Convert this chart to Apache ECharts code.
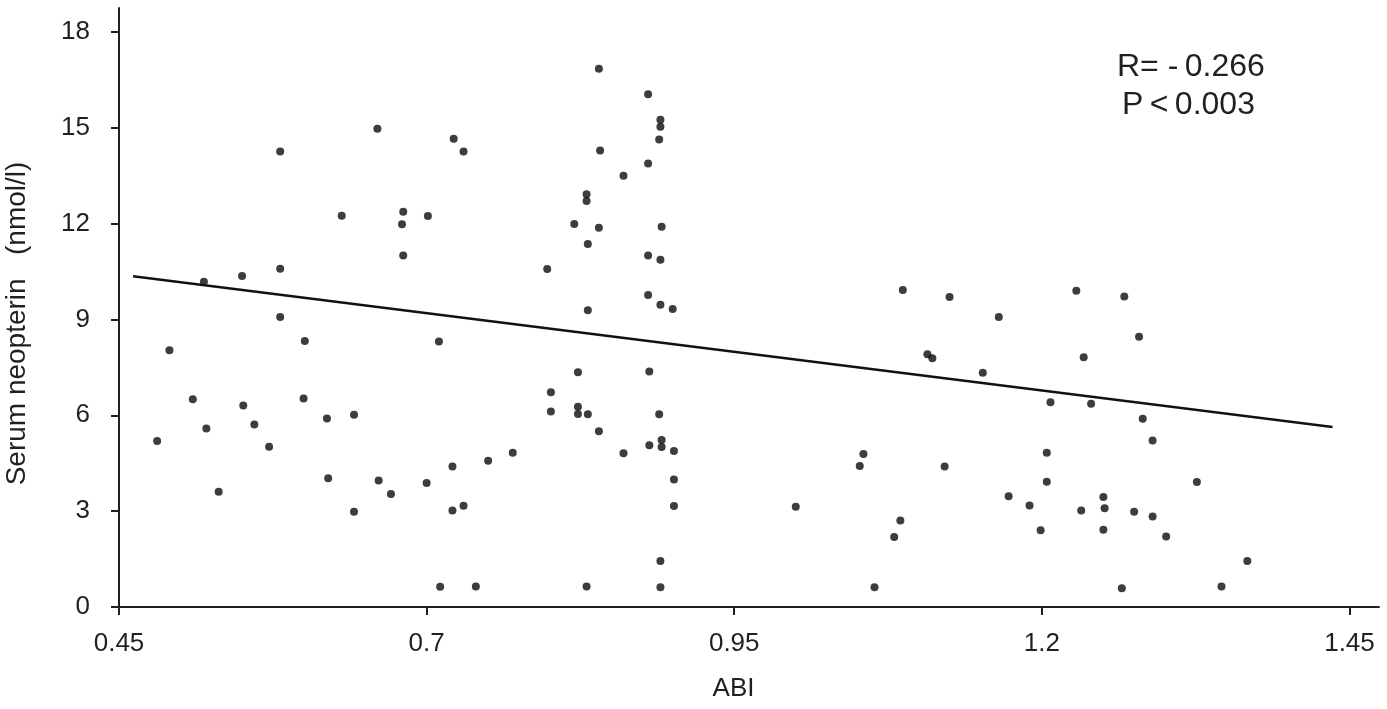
<!DOCTYPE html>
<html>
<head>
<meta charset="utf-8">
<script src="https://cdn.jsdelivr.net/npm/echarts@6.0.0/dist/echarts.min.js"></script>
<style>
  html, body { margin: 0; padding: 0; background: #fff; }
  #chart { width: 1387px; height: 709px; }
</style>
</head>
<body>
<div id="chart"></div>
<script>
// ABI vs serum neopterin
const abi = [
  0.481, 0.491, 0.510, 0.519, 0.521, 0.531, 0.550, 0.551, 0.560, 0.572,
  0.581, 0.581, 0.581, 0.600, 0.601, 0.619, 0.620, 0.631, 0.641, 0.641,
  0.660, 0.661, 0.671, 0.681, 0.680, 0.681, 0.700, 0.701, 0.710, 0.711,
  0.721, 0.721, 0.722, 0.730, 0.730, 0.740, 0.750, 0.770, 0.798, 0.801,
  0.801, 0.820, 0.823, 0.823, 0.823, 0.830, 0.830, 0.831, 0.831, 0.831,
  0.830, 0.840, 0.841, 0.840, 0.840, 0.860, 0.860, 0.880, 0.880, 0.880,
  0.880, 0.881, 0.881, 0.889, 0.890, 0.890, 0.891, 0.890, 0.890, 0.889,
  0.891, 0.891, 0.890, 0.890, 0.900, 0.901, 0.901, 0.901, 1.000, 1.052,
  1.055, 1.064, 1.080, 1.085, 1.087, 1.107, 1.111, 1.121, 1.125, 1.152,
  1.165, 1.173, 1.190, 1.199, 1.204, 1.204, 1.207, 1.228, 1.232, 1.234,
  1.240, 1.250, 1.251, 1.250, 1.265, 1.267, 1.275, 1.279, 1.282, 1.290,
  1.290, 1.301, 1.326, 1.346, 1.367
]
const neopterin = [
  5.20, 8.04, 6.50, 10.18, 5.59, 3.61, 10.36, 6.31, 5.71, 5.02,
  10.59, 14.26, 9.08, 6.53, 8.33, 5.90, 4.03, 12.25, 6.02, 2.98,
  14.97, 3.96, 3.54, 12.37, 11.98, 11.00, 3.88, 12.24, 8.31, 0.63,
  4.40, 3.02, 14.66, 14.26, 3.17, 0.64, 4.58, 4.83, 10.58, 6.72,
  6.12, 11.99, 7.35, 6.27, 6.04, 12.92, 12.71, 11.36, 9.29, 6.03,
  0.64, 16.85, 14.29, 11.87, 5.50, 13.50, 4.81, 16.05, 13.88, 11.00,
  9.77, 7.37, 5.06, 14.63, 15.25, 15.03, 11.90, 10.87, 9.46, 6.03,
  5.23, 5.01, 1.44, 0.62, 9.33, 4.88, 3.99, 3.16, 3.14, 4.41,
  4.79, 0.62, 2.19, 2.71, 9.92, 7.91, 7.79, 4.40, 9.70, 7.33,
  9.08, 3.47, 3.18, 2.40, 4.83, 3.92, 6.41, 9.90, 3.02, 7.82,
  6.36, 3.44, 3.09, 2.42, 0.59, 9.72, 2.98, 8.46, 5.89, 5.21,
  2.83, 2.21, 3.91, 0.64, 1.44
]
// regression line end points
const fitX = [0.4614, 1.4362]
const fitY = [10.35, 5.636]

const xTicks = [0.45, 0.7, 0.95, 1.2, 1.45]
const yTicks = [0, 3, 6, 9, 12, 15, 18]

const ink = '#231f20'
const font = 'Liberation Sans, Arial, sans-serif'

const chart = echarts.init(document.getElementById('chart'))
chart.setOption({
  animation: false,
  grid: { left: 119, top: 8, width: 1260, height: 599, outerBoundsMode: 'none', containLabel: false },
  xAxis: {
    type: 'value',
    min: 0.45,
    max: 1.474,
    name: 'ABI',
    nameLocation: 'middle',
    nameGap: 69,
    nameTextStyle: { color: ink, fontSize: 26, fontFamily: font, padding: [0, 31, 0, 0] },
    splitLine: { show: false },
    axisLine: { lineStyle: { color: ink, width: 2 } },
    axisTick: { customValues: xTicks, length: 8, lineStyle: { color: ink, width: 2 } },
    axisLabel: {
      customValues: xTicks,
      color: ink,
      fontSize: 26,
      fontFamily: font,
      margin: 24,
      formatter: (v) => String(v)
    }
  },
  yAxis: {
    type: 'value',
    min: 0,
    max: 18.75,
    name: 'Serum neopterin   (nmol/l)',
    nameLocation: 'middle',
    nameGap: 88,
    nameTextStyle: { color: ink, fontSize: 28, fontFamily: font, padding: [0, 32, 0, 0] },
    splitLine: { show: false },
    axisLine: { show: true, lineStyle: { color: ink, width: 2 } },
    axisTick: { show: true, customValues: yTicks, length: 8, lineStyle: { color: ink, width: 2 } },
    axisLabel: {
      customValues: yTicks,
      color: ink,
      fontSize: 26,
      fontFamily: font,
      margin: 29
    }
  },
  graphic: [
    {
      type: 'text',
      left: 1117,
      top: 51,
      style: { text: 'R= -\u20090.266', fill: ink, font: '32px ' + font }
    },
    {
      type: 'text',
      left: 1122,
      top: 89,
      style: { text: 'P\u2009<\u20090.003', fill: ink, font: '32px ' + font }
    }
  ],
  series: [
    {
      type: 'scatter',
      symbolSize: 8,
      itemStyle: { color: '#0d0d0d' },
      data: abi.map((x, i) => [x, neopterin[i]])
    },
    {
      type: 'line',
      showSymbol: false,
      silent: true,
      lineStyle: { color: '#111', width: 2.5 },
      data: fitX.map((x, i) => [x, fitY[i]])
    }
  ]
})
</script>
</body>
</html>
